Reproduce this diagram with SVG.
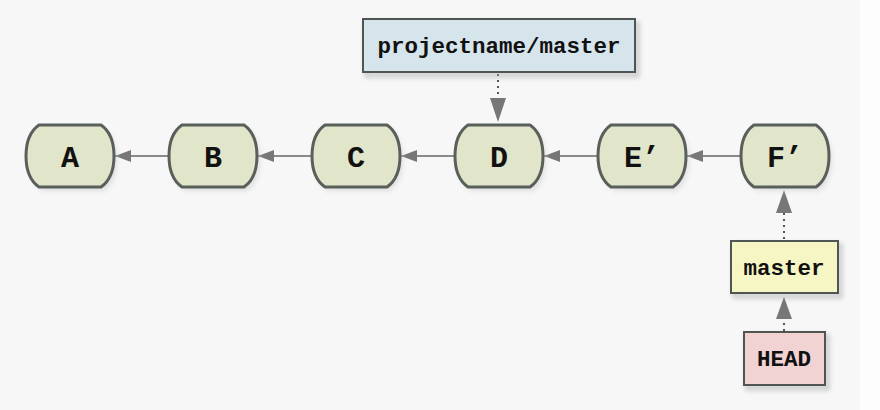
<svg xmlns="http://www.w3.org/2000/svg" width="880" height="410" viewBox="0 0 880 410">
<defs>
<style>
.commit path{fill:#e1e5c9;stroke:#59605c;stroke-width:3}
.commit text,.ref text{font-family:"Liberation Mono","DejaVu Sans Mono",monospace;font-weight:bold;fill:#111;text-anchor:middle}
.commit text{font-size:30px}
.ref text{font-size:22.5px}
.ref rect{stroke:#4f5552;stroke-width:2}
.edge{stroke:#666;stroke-width:1.3;fill:none}
.dot{stroke:#555;stroke-width:2;stroke-dasharray:2 4;fill:none}
.shadow{fill:#c8c8c8;opacity:0.5}
</style>
<marker id="ah" viewBox="0 0 16 12" refX="16" refY="6" markerWidth="16" markerHeight="12" markerUnits="userSpaceOnUse" orient="auto">
<path d="M0,0 L16,6 L0,12 Z" fill="#777"/>
</marker>
<filter id="sh" x="-20%" y="-20%" width="150%" height="150%">
<feGaussianBlur stdDeviation="2.5"/>
</filter>
<path id="nodeShape" d="M12,0 H74 Q87,9 87,31 Q87,53 74,62 H12 Q-1,53 -1,31 Q-1,9 12,0 Z"/>
</defs>
<rect x="0" y="0" width="880" height="410" fill="#f7f7f7"/>
<rect x="860" y="0" width="20" height="410" fill="#fdfdfd"/>

<g id="connectors">
<line class="edge" x1="170" y1="156" x2="115" y2="156" marker-end="url(#ah)"/>
<line class="edge" x1="313" y1="156" x2="258" y2="156" marker-end="url(#ah)"/>
<line class="edge" x1="456" y1="156" x2="401" y2="156" marker-end="url(#ah)"/>
<line class="edge" x1="599" y1="156" x2="544" y2="156" marker-end="url(#ah)"/>
<line class="edge" x1="742" y1="156" x2="687" y2="156" marker-end="url(#ah)"/>
<line class="dot" x1="498" y1="74" x2="498" y2="100"/>
<path d="M490,98 L498,122 L506,98 Z" fill="#777"/>
<line class="dot" x1="784" y1="239" x2="784" y2="212"/>
<path d="M776,213 L784,190 L792,213 Z" fill="#777"/>
<line class="dot" x1="784" y1="331" x2="784" y2="318"/>
<path d="M776,319 L784,297 L792,319 Z" fill="#777"/>
</g>

<g id="A" class="commit">
<use href="#nodeShape" x="30" y="129" class="shadow" filter="url(#sh)"/>
<path transform="translate(27,125)" d="M12,0 H74 Q87,9 87,31 Q87,53 74,62 H12 Q-1,53 -1,31 Q-1,9 12,0 Z"/>
<text x="70" y="167">A</text>
</g>
<g id="B" class="commit">
<use href="#nodeShape" x="173" y="129" class="shadow" filter="url(#sh)"/>
<path transform="translate(170,125)" d="M12,0 H74 Q87,9 87,31 Q87,53 74,62 H12 Q-1,53 -1,31 Q-1,9 12,0 Z"/>
<text x="213" y="167">B</text>
</g>
<g id="C" class="commit">
<use href="#nodeShape" x="316" y="129" class="shadow" filter="url(#sh)"/>
<path transform="translate(313,125)" d="M12,0 H74 Q87,9 87,31 Q87,53 74,62 H12 Q-1,53 -1,31 Q-1,9 12,0 Z"/>
<text x="356" y="167">C</text>
</g>
<g id="D" class="commit">
<use href="#nodeShape" x="459" y="129" class="shadow" filter="url(#sh)"/>
<path transform="translate(456,125)" d="M12,0 H74 Q87,9 87,31 Q87,53 74,62 H12 Q-1,53 -1,31 Q-1,9 12,0 Z"/>
<text x="499" y="167">D</text>
</g>
<g id="E" class="commit">
<use href="#nodeShape" x="602" y="129" class="shadow" filter="url(#sh)"/>
<path transform="translate(599,125)" d="M12,0 H74 Q87,9 87,31 Q87,53 74,62 H12 Q-1,53 -1,31 Q-1,9 12,0 Z"/>
<text x="642" y="167">E’</text>
</g>
<g id="F" class="commit">
<use href="#nodeShape" x="745" y="129" class="shadow" filter="url(#sh)"/>
<path transform="translate(742,125)" d="M12,0 H74 Q87,9 87,31 Q87,53 74,62 H12 Q-1,53 -1,31 Q-1,9 12,0 Z"/>
<text x="785" y="167">F’</text>
</g>

<g id="projectname_master" class="ref">
<rect x="366" y="23" width="272" height="53" class="shadow" filter="url(#sh)" stroke="none"/>
<rect x="363" y="19" width="272" height="53" fill="#d6e4ec"/>
<text x="499" y="53">projectname/master</text>
</g>
<g id="master" class="ref">
<rect x="734" y="245" width="107" height="52" class="shadow" filter="url(#sh)" stroke="none"/>
<rect x="731" y="241" width="107" height="52" fill="#f6f6c4"/>
<text x="784" y="275">master</text>
</g>
<g id="HEAD" class="ref">
<rect x="747" y="336" width="81" height="53" class="shadow" filter="url(#sh)" stroke="none"/>
<rect x="744" y="332" width="81" height="53" fill="#f1d3d3"/>
<text x="784" y="366">HEAD</text>
</g>
</svg>
